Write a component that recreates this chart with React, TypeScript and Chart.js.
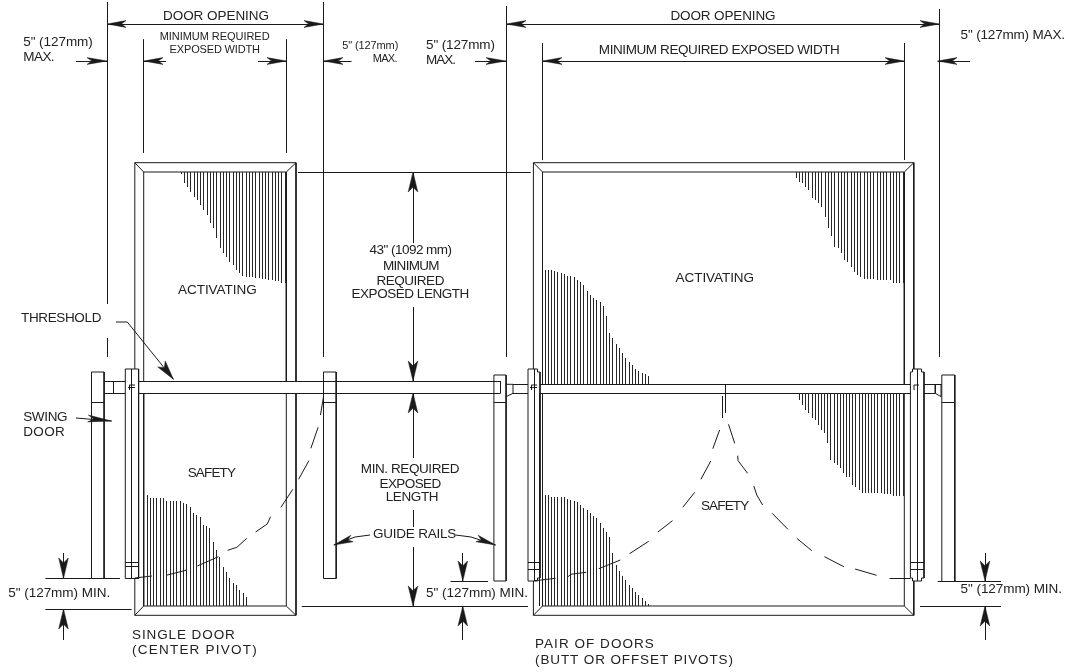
import React, { useEffect, useRef } from "react";
import { Chart, registerables } from "chart.js";

Chart.register(...registerables);

type Pt = [number, number];

const INK = "#1a1a1a";

// ---- dimension / extension lines
const dimensionLines: Pt[][] = [
  [[107, 2], [107, 304]], [[107, 338], [107, 357]],
  [[323.5, 2], [323.5, 357]],
  [[506, 6], [506, 357]],
  [[939.5, 9], [939.5, 357]],
  [[143.7, 39.5], [143.7, 153]],
  [[286.3, 39.5], [286.3, 153]],
  [[542.5, 43], [542.5, 160]],
  [[904.3, 43], [904.3, 160]],
  [[107, 24], [323.5, 24]],
  [[506, 24], [939.5, 24]],
  [[542.5, 61], [904.3, 61]],
  [[76, 61], [107, 61]],
  [[143.7, 61], [166, 61]],
  [[258, 61], [286.3, 61]],
  [[323.5, 61], [351.5, 61]],
  [[475, 61], [506, 61]],
  [[937.7, 61], [970, 61]],
  [[298, 172], [530.7, 172]],
  [[301.7, 606], [528, 606]],
  [[413, 172], [413, 243]], [[413, 307], [413, 381]],
  [[413, 393], [413, 458]], [[413, 510], [413, 527]], [[413, 547], [413, 606]],
  [[45.4, 578.5], [120, 578.5]],
  [[45.4, 609], [131.7, 609]],
  [[63.5, 553], [63.5, 578.5]],
  [[63.5, 609], [63.5, 640]],
  [[450.5, 581], [488, 581]],
  [[462.8, 553], [462.8, 581]],
  [[462.8, 606], [462.8, 640]],
  [[937.7, 581], [1001, 581]],
  [[920, 606], [1001, 606]],
  [[985, 553], [985, 581]],
  [[985, 606], [985, 640]],
];

// ---- leader lines
const leaderLines: Pt[][] = [
  [[116, 322], [127.3, 322], [173.4, 379.3]],
  [[76, 418], [111.6, 421]],
  [[370, 535], [355, 537], [333.8, 545]],
  [[455.6, 535], [471, 537], [495.6, 545]],
];

// ---- door frames (mats)
const frameLines: Pt[][] = [
  [[134.8, 369], [134.8, 162.7], [296, 162.7], [296, 381.3]],
  [[296, 393.3], [296, 615.3], [134.8, 615.3], [134.8, 578.5]],
  [[143.7, 381.3], [143.7, 172], [286.3, 172], [286.3, 381.3]],
  [[143.7, 393.3], [143.7, 606], [286.3, 606], [286.3, 393.3]],
  [[134.8, 162.7], [143.7, 172]], [[296, 162.7], [286.3, 172]],
  [[134.8, 615.3], [143.7, 606]], [[296, 615.3], [286.3, 606]],
  [[533.4, 369], [533.4, 162.7], [913.8, 162.7], [913.8, 369]],
  [[913.8, 581], [913.8, 615.3], [533.4, 615.3], [533.4, 581]],
  [[542.5, 384.3], [542.5, 172], [904.3, 172], [904.3, 384.3]],
  [[542.5, 393.3], [542.5, 606], [904.3, 606], [904.3, 393.3]],
  [[539.4, 393.3], [539.4, 606]],
  [[533.4, 162.7], [542.5, 172]], [[913.8, 162.7], [904.3, 172]],
  [[533.4, 615.3], [542.5, 606]], [[913.8, 615.3], [904.3, 606]],
];

// ---- thresholds, doors, rails, jambs
const hardwareLines: Pt[][] = [
  [[138.6, 381.3], [500, 381.3]], [[138.6, 393.3], [500, 393.3]],
  [[500, 381.3], [500, 393.3]],
  [[540, 384.3], [910.4, 384.3]], [[540, 393.3], [910.4, 393.3]],
  // swing door, left
  [[91.5, 578.5], [91.5, 372], [104.1, 372], [104.1, 578.5]],
  [[91.5, 402.5], [104.1, 402.5]],
  [[104.1, 381.3], [125.3, 381.3]], [[104.1, 393.3], [125.3, 393.3]],
  [[113.3, 381.3], [113.3, 393.3]],
  // jamb, left
  [[125.3, 369], [138.6, 369], [138.6, 578.5], [125.3, 578.5], [125.3, 369]],
  [[131.4, 369], [131.4, 578.5]],
  [[125.3, 562.7], [138.6, 562.7]], [[125.3, 566.7], [138.6, 566.7]],
  [[129.5, 390], [129.5, 385], [135, 385]], [[128, 387.5], [135, 387.5]],
  // guide rails
  [[323.5, 372], [336.2, 372], [336.2, 578.5], [323.5, 578.5], [323.5, 372]],
  [[323.5, 402.5], [336.2, 402.5]],
  [[493.9, 375], [506.1, 375], [506.1, 581], [493.9, 581], [493.9, 375]],
  [[493.9, 402.5], [506.1, 402.5]],
  // connector, middle
  [[506, 396.7], [513, 393.3], [513, 384.3], [506, 384.3]],
  [[513, 384.3], [528, 384.3]], [[513, 393.3], [528, 393.3]],
  // jamb, pair left
  [[528, 369], [537.5, 369], [537.5, 372], [540, 372], [540, 578], [537.5, 578], [537.5, 581], [528, 581], [528, 369]],
  [[534.5, 369], [534.5, 581]],
  [[528, 562.7], [540, 562.7]], [[528, 569.3], [540, 569.3]],
  [[531.5, 390], [531.5, 385], [537, 385]], [[530, 387.5], [537, 387.5]],
  // jamb, pair right
  [[912.5, 372], [912.5, 369], [921.5, 369], [921.5, 372], [924, 372], [924, 578], [921.5, 578], [921.5, 581], [912.5, 581], [912.5, 578], [910.4, 578], [910.4, 372], [912.5, 372]],
  [[917, 369], [917, 581]],
  [[910.4, 562.7], [924, 562.7]], [[910.4, 569.3], [924, 569.3]],
  [[914, 390], [914, 385], [919, 385]],
  // connector, right
  [[924, 384.3], [941.8, 384.3]], [[924, 393.3], [935.3, 393.3]],
  [[935.3, 384.3], [935.3, 393.3], [941, 396.7], [941, 384.3]],
  // swing door, right
  [[941.8, 581], [941.8, 375], [954.8, 375], [954.8, 581]],
  [[941.8, 402.7], [954.8, 402.7]],
  // centre meeting stiles
  [[725.4, 384.3], [725.4, 412.7]], [[722, 396], [722, 418]],
];

// ---- dashed door swings (each entry is one dash)
const swingSingle: Pt[][] = [
  [[134.8, 578], [151.9, 576]], [[166.2, 575.3], [187, 570]], [[197.3, 566], [218.4, 556.7]],
  [[227.6, 550.3], [236.9, 547.3], [246.8, 538.3]], [[255.6, 532], [267.2, 524], [270.6, 516.7]],
  [[280.9, 507.3], [292.8, 489.3]], [[298.6, 479.3], [308.9, 460.7]], [[310.9, 448.3], [318.1, 427.3]],
  [[320.5, 415], [323.5, 396.7]],
];
const swingPairLeft: Pt[][] = [
  [[535, 580.7], [555.5, 578.3]], [[568.1, 576.7], [570.8, 574.3], [586.2, 572.3]],
  [[598.8, 568.7], [620.3, 560]], [[629.5, 553.7], [648.7, 541.3]], [[657.9, 532], [672.5, 520.7]],
  [[682.8, 507.3], [694.7, 492.3]], [[700.9, 479.3], [710.8, 461]], [[712.8, 448.7], [719.6, 430]],
];
const swingPairRight: Pt[][] = [
  [[728.5, 424.3], [734.7, 443.3]], [[737.7, 455.7], [738.1, 460.7], [747.6, 473.3]],
  [[753.8, 486], [756.8, 495], [762.6, 505]], [[772.2, 513.3], [787.9, 529.3]],
  [[796.8, 538.3], [811.8, 550.7]], [[824.4, 556.7], [843.9, 566.7]],
  [[855.1, 569], [876.6, 575.3]], [[889.6, 578.3], [910.4, 578.3]],
];

// ---- sensor hatching: where each stripe stops
const hatchSingleActivatingEnds = [174, 183, 187, 192, 197, 200, 205, 210, 215, 223, 228, 238, 248, 253, 257, 262, 265, 270, 273, 276, 277, 277, 277, 278, 278, 279, 279, 280, 280, 281, 281, 283, 283];
const hatchSingleSafetyTops = [495, 498, 498, 498, 498, 498, 501, 501, 501, 501, 501, 503, 504, 507, 513, 515, 517, 525, 526, 528, 542, 550, 557, 567, 572, 578, 583, 585, 590, 593, 597];
const hatchPairRightActivatingEnds = [178, 182, 183, 187, 190, 198, 200, 203, 207, 217, 228, 236, 247, 248, 253, 260, 262, 267, 272, 275, 277, 279, 279, 279, 279, 280, 280, 280, 280, 280, 283, 283, 283, 283];
const hatchPairLeftActivatingTops = [270, 270, 270, 271, 272, 273, 274, 276, 276, 277, 280, 282, 285, 291, 295, 298, 300, 302, 306, 316, 333, 338, 344, 348, 353, 358, 362, 365, 369, 371, 373, 374, 376];
const hatchPairLeftSafetyTops = [495, 495, 497, 497, 497, 497, 497, 499, 500, 501, 502, 505, 508, 510, 513, 516, 518, 523, 528, 532, 537, 553, 565, 571, 576, 580, 585, 588, 592, 595, 598, 601, 604];
const hatchPairRightSafetyEnds = [400, 405, 410, 413, 418, 420, 425, 430, 433, 443, 460, 463, 465, 468, 473, 477, 477, 485, 487, 490, 493, 493, 493, 493, 493, 493, 493, 494, 494, 494, 496, 496, 496, 496];

const hatchFields: { values: number[]; from: number; to: number; fixed: number }[] = [
  { values: hatchSingleActivatingEnds, from: 181, to: 285, fixed: 172 },
  { values: hatchSingleSafetyTops, from: 147, to: 246.4, fixed: 606 },
  { values: hatchPairRightActivatingEnds, from: 796, to: 903, fixed: 172 },
  { values: hatchPairLeftActivatingTops, from: 545, to: 648.6, fixed: 384.3 },
  { values: hatchPairLeftSafetyTops, from: 545, to: 648.6, fixed: 606 },
  { values: hatchPairRightSafetyEnds, from: 799.5, to: 903, fixed: 393.3 },
];

// ---- arrowheads: tip x, tip y, tail x, tail y
const arrowHeads: [number, number, number, number][] = [
  [107, 24, 126, 24], [323.5, 24, 304, 24],
  [506, 24, 526, 24], [939.5, 24, 920, 24],
  [542.5, 61, 562, 61], [904.3, 61, 885, 61],
  [107, 61, 87, 61], [143.7, 61, 163, 61], [286.3, 61, 267, 61],
  [323.5, 61, 343, 61], [506, 61, 486, 61], [937.7, 61, 957, 61],
  [413, 172, 413, 192], [413, 381, 413, 361], [413, 393, 413, 413], [413, 606, 413, 586],
  [63.5, 578.5, 63.5, 558], [63.5, 609, 63.5, 629],
  [462.8, 581, 462.8, 561], [462.8, 606, 462.8, 626],
  [985, 581, 985, 561], [985, 606, 985, 626],
  [173.4, 379.3, 161.5, 364],
  [111.6, 421, 88, 418.5],
  [333.8, 545, 352, 538.5],
  [495.6, 545, 477, 538.5],
];

// ---- labels: text, left, right, centre y, font px
const labels: [string, number, number, number, number][] = [
  ["DOOR OPENING", 163, 269, 16, 13.5],
  ["DOOR OPENING", 670.5, 775.6, 16, 13.5],
  ['5" (127mm)', 23.2, 92.8, 41.7, 13.5],
  ["MAX.", 23.2, 54.6, 56.7, 13.5],
  ["MINIMUM REQUIRED", 159.7, 269.6, 36, 11],
  ["EXPOSED WIDTH", 169.6, 260, 49.3, 11],
  ['5" (127mm)', 342.3, 398.3, 45.3, 11],
  ["MAX.", 372.7, 397.6, 58.3, 11],
  ['5" (127mm)', 426, 495, 44.7, 13.5],
  ["MAX.", 426, 456, 59.7, 13.5],
  ["MINIMUM REQUIRED EXPOSED WIDTH", 598.8, 839.8, 50, 13.5],
  ['5" (127mm) MAX.', 960.6, 1065, 34.7, 13.5],
  ['43" (1092 mm)', 369.6, 452, 250, 13.5],
  ["MINIMUM", 383, 439.6, 266, 13.5],
  ["REQUIRED", 376.4, 444.4, 281, 13.5],
  ["EXPOSED LENGTH", 351.5, 469.3, 293.3, 13.5],
  ["ACTIVATING", 178, 256.7, 290, 13.5],
  ["ACTIVATING", 675.6, 754, 278, 13.5],
  ["THRESHOLD", 21, 101.4, 318, 13.5],
  ["SWING", 23.2, 67.6, 416.3, 13.5],
  ["DOOR", 23.2, 64.8, 432, 13.5],
  ["SAFETY", 187.7, 236, 472.3, 13.5],
  ["SAFETY", 700.9, 749.3, 506, 13.5],
  ["MIN. REQUIRED", 360.8, 459.4, 469, 13.5],
  ["EXPOSED", 379.5, 441.3, 484, 13.5],
  ["LENGTH", 385.7, 438.6, 496.7, 13.5],
  ["GUIDE RAILS", 373, 456.3, 534, 13.5],
  ['5" (127mm) MIN.', 8.2, 110.2, 592.7, 13.5],
  ['5" (127mm) MIN.', 426, 528, 592.7, 13.5],
  ['5" (127mm) MIN.', 960.6, 1062, 589, 13.5],
  ["SINGLE DOOR", 132, 234.8, 635, 13.5],
  ["(CENTER PIVOT)", 132, 256.7, 650, 13.5],
  ["PAIR OF DOORS", 535, 653.8, 644, 13.5],
  ["(BUTT OR OFFSET PIVOTS)", 535, 733, 660, 13.5],
];

const crisp = (v: number) => Math.floor(v) + 0.5;

const gapped = (lines: Pt[][]) => {
  const out: { x: number; y: number }[] = [];
  lines.forEach((line) => {
    const straightX = line.length > 1 && line.every((p) => p[0] === line[0][0]);
    const straightY = line.length > 1 && line.every((p) => p[1] === line[0][1]);
    line.forEach(([x, y]) => {
      out.push({ x: straightX ? crisp(x) : x, y: straightY ? crisp(y) : y });
    });
    out.push({ x: NaN, y: NaN });
  });
  return out;
};

const hatchLines = (): Pt[][] => {
  const out: Pt[][] = [];
  hatchFields.forEach(({ values, from, to, fixed }) => {
    const step = (to - from) / (values.length - 1);
    values.forEach((v, i) => {
      const x = from + i * step;
      out.push([[x, fixed], [x, v]]);
    });
  });
  return out;
};

const stroke = (label: string, lines: Pt[][], width = 1, color = INK) => ({
  label,
  data: gapped(lines),
  showLine: true,
  spanGaps: false,
  borderColor: color,
  borderWidth: width,
  pointRadius: 0,
  fill: false,
  tension: 0,
  clip: false as const,
});

const headPolygon = ([tx, ty, bx, by]: [number, number, number, number]) => {
  const dx = bx - tx;
  const dy = by - ty;
  const len = Math.hypot(dx, dy) || 1;
  const ux = dx / len;
  const uy = dy / len;
  const half = Math.abs(dy) > Math.abs(dx) ? 4.8 : 3.4;
  const nx = -uy * half;
  const ny = ux * half;
  return [
    { x: tx, y: ty },
    { x: bx + nx, y: by + ny },
    { x: tx + ux * len * 0.76, y: ty + uy * len * 0.76 },
    { x: bx - nx, y: by - ny },
    { x: tx, y: ty },
  ];
};

const textPlugin = {
  id: "drawingText",
  afterDatasetsDraw(chart: any) {
    const { ctx, scales } = chart;
    ctx.save();
    ctx.fillStyle = "#222";
    ctx.textAlign = "left";
    ctx.textBaseline = "middle";
    labels.forEach(([text, left, right, cy, size]) => {
      ctx.font = `${size}px "Liberation Sans", Arial, sans-serif`;
      ctx.letterSpacing = "0px";
      const x0 = scales.x.getPixelForValue(left);
      const x1 = scales.x.getPixelForValue(right);
      const measured = ctx.measureText(text).width;
      const spacing = (x1 - x0 - measured) / Math.max(1, text.length - 1);
      ctx.letterSpacing = `${spacing.toFixed(3)}px`;
      ctx.fillText(text, x0, scales.y.getPixelForValue(cy) + 0.5);
    });
    ctx.restore();
  },
};

const backgroundPlugin = {
  id: "paper",
  beforeDraw(chart: any) {
    const { ctx, width, height } = chart;
    ctx.save();
    ctx.fillStyle = "#ffffff";
    ctx.fillRect(0, 0, width, height);
    ctx.restore();
  },
};

export default function App() {
  const ref = useRef<HTMLCanvasElement | null>(null);

  useEffect(() => {
    if (!ref.current) return;
    const heads = arrowHeads.map((a, i) => ({
      label: `arrow ${i + 1}`,
      data: headPolygon(a),
      showLine: true,
      borderColor: INK,
      borderWidth: 0.5,
      backgroundColor: INK,
      pointRadius: 0,
      fill: "shape" as const,
      tension: 0,
      clip: false as const,
    }));
    const chart = new Chart(ref.current, {
      type: "scatter",
      data: {
        datasets: [
          stroke("hatching", hatchLines(), 1, "#262626"),
          stroke("frames", frameLines),
          stroke("hardware", hardwareLines),
          stroke("dimensions", dimensionLines),
          stroke("leaders", leaderLines),
          stroke("single swing", swingSingle),
          stroke("pair swing left", swingPairLeft),
          stroke("pair swing right", swingPairRight),
          ...heads,
        ] as any,
      },
      options: {
        animation: false,
        responsive: false,
        devicePixelRatio: 1,
        layout: { padding: 0 },
        plugins: { legend: { display: false }, tooltip: { enabled: false }, title: { display: false } },
        scales: {
          x: { type: "linear", min: 0, max: 1070, display: false },
          y: { type: "linear", min: 0, max: 672, reverse: true, display: false },
        },
      },
      plugins: [backgroundPlugin, textPlugin],
    });
    return () => chart.destroy();
  }, []);

  return (
    <canvas
      ref={ref}
      width={1070}
      height={672}
      style={{ position: "absolute", left: 0, top: 0, display: "block" }}
    />
  );
}
